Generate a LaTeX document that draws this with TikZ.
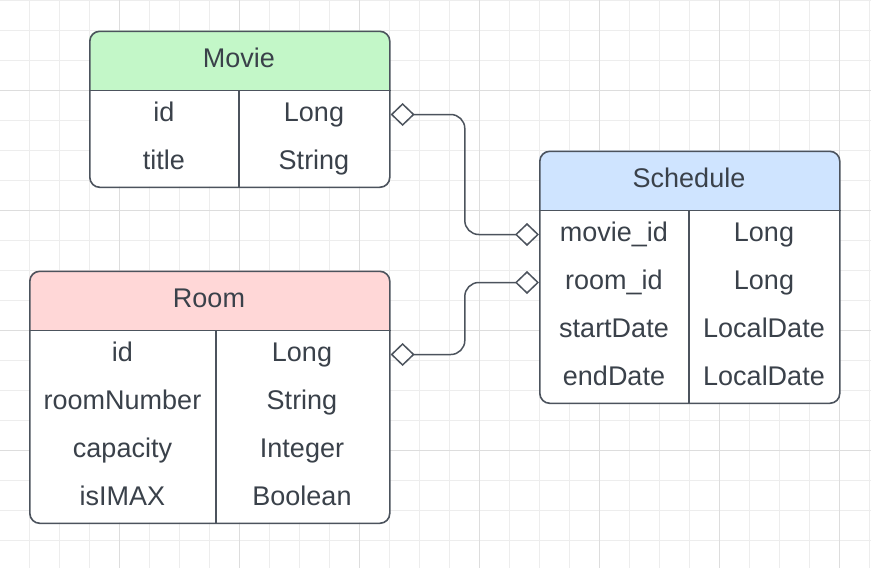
\documentclass[tikz,border=0pt]{standalone}
\usepackage{fontspec}
\setmainfont{Liberation Sans}
\usetikzlibrary{arrows.meta,calc}
\definecolor{gridminor}{HTML}{EDEDED}
\definecolor{gridmajor}{HTML}{DDDDDD}
\definecolor{edgecol}{HTML}{4C535D}
\definecolor{textcol}{HTML}{3A414A}
\definecolor{moviefill}{HTML}{C3F7C8}
\definecolor{roomfill}{HTML}{FFD7D7}
\definecolor{schedfill}{HTML}{CFE4FF}
\tikzset{
  tablebox/.style={draw=edgecol, line width=1.6pt, rounded corners=10pt, minimum height=0pt, inner sep=0pt, anchor=north west},
  sepline/.style={draw=edgecol, line width=1.6pt},
  txt/.style={text=textcol, font=\fontsize{27}{31}\selectfont, anchor=base, inner sep=0pt},
  conn/.style={draw=edgecol, line width=1.5pt, rounded corners=14pt,
    {Diamond[length=24pt,width=23pt,fill=white,line join=miter]}-{Diamond[length=24pt,width=23pt,fill=white,line join=miter]}},
}
\begin{document}
\begin{tikzpicture}[x=1pt,y=-1pt]
\useasboundingbox (0,0) rectangle (871,568);
\fill[white] (0,0) rectangle (871,568);
% grid
\foreach \i in {0,...,28} {\draw[gridminor, line width=1pt] ({29+30*\i},0) -- ({29+30*\i},568);}
\foreach \i in {0,...,18} {\draw[gridminor, line width=1pt] (0,{0.5+30*\i}) -- (871,{0.5+30*\i});}
\foreach \i in {0,...,6} {\draw[gridmajor, line width=1pt] ({119+120*\i},0) -- ({119+120*\i},568);}
\foreach \i in {0,...,3} {\draw[gridmajor, line width=1pt] (0,{90.5+120*\i}) -- (871,{90.5+120*\i});}

% ---------- Movie ----------
\fill[white, rounded corners=10pt] (89,30.5) rectangle (389,186.5);
\fill[moviefill] (89,90.5) [rounded corners=10pt] -- (89,30.5) -- (389,30.5) [sharp corners] -- (389,90.5) -- cycle;
\node[tablebox, minimum width=300pt, minimum height=156pt] (movie) at (89,30.5) {};
\draw[sepline] ($(movie.north west)+(0,60)$) -- ($(movie.north east)+(0,60)$);
\draw[sepline] ($(movie.north west)+(150,60)$) -- ($(movie.south west)+(150,0)$);
\node[txt] (movieT) at (239,67) {Movie};
\node[txt] (movieA1) at (164,121) {id};
\node[txt] (movieB1) at (314,121) {Long};
\node[txt] (movieA2) at (164,169) {title};
\node[txt] (movieB2) at (314,169) {String};

% ---------- Room ----------
\fill[white, rounded corners=10pt] (29,270.5) rectangle (389,522.5);
\fill[roomfill] (29,330.5) [rounded corners=10pt] -- (29,270.5) -- (389,270.5) [sharp corners] -- (389,330.5) -- cycle;
\node[tablebox, minimum width=360pt, minimum height=252pt] (room) at (29,270.5) {};
\draw[sepline] ($(room.north west)+(0,60)$) -- ($(room.north east)+(0,60)$);
\draw[sepline] ($(room.north west)+(187,60)$) -- ($(room.south west)+(187,0)$);
\node[txt] (roomT) at (209,307) {Room};
\node[txt] (roomA1) at (122.5,361) {id};
\node[txt] (roomB1) at (302,361) {Long};
\node[txt] (roomA2) at (122.5,409) {roomNumber};
\node[txt] (roomB2) at (302,409) {String};
\node[txt] (roomA3) at (122.5,457) {capacity};
\node[txt] (roomB3) at (302,457) {Integer};
\node[txt] (roomA4) at (122.5,505) {isIMAX};
\node[txt] (roomB4) at (302,505) {Boolean};

% ---------- Schedule ----------
\fill[white, rounded corners=10pt] (539,150.5) rectangle (839,402.5);
\fill[schedfill] (539,210.5) [rounded corners=10pt] -- (539,150.5) -- (839,150.5) [sharp corners] -- (839,210.5) -- cycle;
\node[tablebox, minimum width=300pt, minimum height=252pt] (sched) at (539,150.5) {};
\draw[sepline] ($(sched.north west)+(0,60)$) -- ($(sched.north east)+(0,60)$);
\draw[sepline] ($(sched.north west)+(150,60)$) -- ($(sched.south west)+(150,0)$);
\node[txt] (schedT) at (689,187) {Schedule};
\node[txt] (schedA1) at (614,241) {movie\_id};
\node[txt] (schedB1) at (764,241) {Long};
\node[txt] (schedA2) at (614,289) {room\_id};
\node[txt] (schedB2) at (764,289) {Long};
\node[txt] (schedA3) at (614,337) {startDate};
\node[txt] (schedB3) at (764,337) {LocalDate};
\node[txt] (schedA4) at (614,385) {endDate};
\node[txt] (schedB4) at (764,385) {LocalDate};

% ---------- connectors ----------
\coordinate (movieIdR) at ($(movie.north east)+(0,84)$);
\coordinate (roomIdR) at ($(room.north east)+(0,84)$);
\coordinate (schedMovL) at ($(sched.north west)+(0,84)$);
\coordinate (schedRoomL) at ($(sched.north west)+(0,132)$);
\draw[conn] (movieIdR) -| ($(movieIdR)!0.5!(schedMovL)$) |- (schedMovL);
\draw[conn] (roomIdR) -| ($(roomIdR)!0.5!(schedRoomL)$) |- (schedRoomL);
\end{tikzpicture}
\end{document}
